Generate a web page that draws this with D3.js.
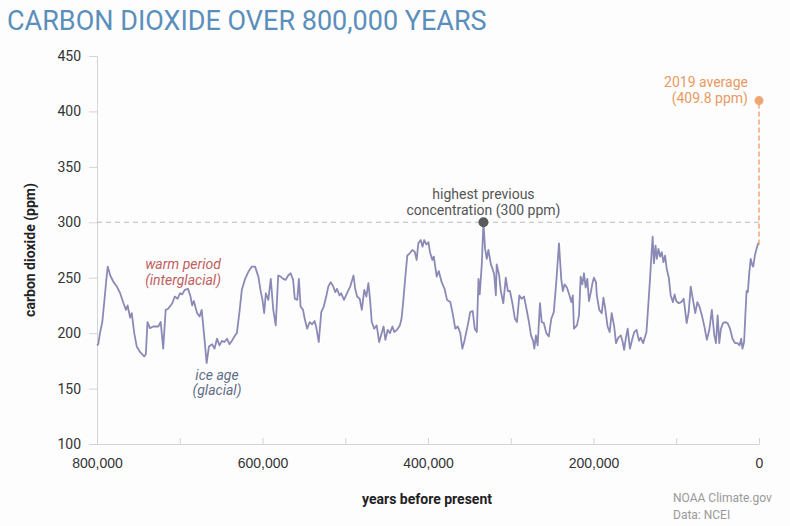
<!DOCTYPE html>
<html>
<head>
<meta charset="utf-8">
<script src="https://cdn.jsdelivr.net/npm/d3@7"></script>
<style>
  html, body { margin: 0; padding: 0; background: #fdfdfe; }
  svg { display: block; font-family: Roboto, "Open Sans", sans-serif; }
</style>
</head>
<body>
<div id="chart"></div>
<script>
// thousands of years before present
const kyrBeforePresent = [800,798.5,796.4,793.6,791,788.5,787,784,780,776,772,768,765,763,760,758,755,752,748,743,741,739,736,732,726,723,720,717,714,709,706,702.5,699.7,697,694,690,687,685,683,679,676,673.5,670,667.5,664.7,661,658,655,652,649,646,643,640,637,634,631,628,625,621,617,613,609,605,602,600,598,596,593,590,587,584,581,578,575,572,569,566,563,561,558,556,554,551,549,546,543,540,537,535,532,529,526,523,520.5,517.6,515,512,510,507,505,501.5,499,496,494,490,488,485.7,482.5,480,477,474.5,472,470,468,465,462,459,456,453.7,451.5,448.7,446,443,440.7,437.5,434,432,430,427,425,422,419,416,413.7,411.7,408.8,406.6,404.5,402,399.5,397.6,394.7,393,389.5,387,383.5,380,377,373,370.5,367,364,361,358.5,356,352,349,346,343.5,341,339,337.5,335,333,331,329,327,324,322,320,318,317,314,312,309,306,303.5,301,298,295,292.5,289.6,287,284,281,278,275.5,273,271.5,269.6,267.5,264.7,262.6,260,257,254,251,248,245,241.7,239,237,235,232,229,226.8,225,223.6,220,217.5,215.5,213.5,211.5,209.5,207.5,205.5,203.5,201,199.5,197,196,193,190,188,186,183,180.5,178,175,172.8,170,167,165,163,161,158.7,156,153,150.8,148,145,143,140,138,136,133.8,131.7,130,128.5,127,125,123.5,121.5,119.5,117.5,115.5,113.5,111.5,109,106.7,104,102,100,97,94,91,89,87.4,85,82.5,80,77,74.5,72,69,66,63,60,57,54,52,50,48,46,43.5,41,38,35,32,29,26,23.5,21.5,20,18,16.5,15,13.5,11.7,10,8,7,5,3,1,0];
const co2Ppm = [189,190,200,210,230,250,260,252,246,242,236,227,221,225,214,218,200,188,183,179,181,210,204.5,206,206,210,186,221,222,227,233,231,236,235,239,240,233,225,229,218,215,221,194,173,188,190,186,195,189,193,192,195,190,193,197,200,218,239,249,255.5,260,260,251,237,230,218,236,230,249,221,207,252,251,249,248,252,254,248,231,230,249,224,221,213,204,210,208,211,205,192,219,224,233,242,246,243,237,240,234,236,230,234,239,242,252,240,233,231,221,239,233,245,230,210,204,207,192,200,206,194,203,200,206,201,203,207,213,228,254,270,272,275,273.5,266,281,284,278,284,280,282,273,266,269,251,256,246,240,230,228,219,204,206,200,186,193,207,219,220,204,201,249,235,262,300,276,267,275,262,258,253,234,262,252,238,227,250,238,238,227,213,210,234,231,233,222,210,198,193,186,198,189,227,210,209,200,197,213,219,246,281,249,238,244,241,234,228,234,204,207,216,251,244,254,241,249,229,236,246,250,246,234,221,218,232,223,206,201,218,206,191,196,198,193,185,195,204,186,195,201,203,193,196,191,196,201,225,249,270,287,263,279,267,276,269,273,264,270,258,250,234,228,235,229,227,228,231,219,209,219,242,231,218,228,224,216,206,194,203,221,198,191,216,191,204,209,210,209,204,195,191,191,189,195,186,192,216,238,237,255,267,261,260,270,276,281,280];

const xTicks = [800000,700000,600000,500000,400000,300000,200000,100000,0];
const xTickLabels = [800000,600000,400000,200000,0];
const yTicks = [100,150,200,250,300,350,400,450];

const previousHigh = { years: 333000, ppm: 300 };
const recent = { years: 0, ppm: 409.8 };

const width = 790, height = 526;
const margin = { top: 56, right: 31, bottom: 82, left: 97 };

const data = kyrBeforePresent.map((k, i) => ({ years: k * 1000, ppm: co2Ppm[i] }));

const svg = d3.select("#chart").append("svg")
    .attr("width", width)
    .attr("height", height);

const x = d3.scaleLinear()
    .domain([800000, 0])
    .range([margin.left, width - margin.right]);

const y = d3.scaleLinear()
    .domain([100, 450])
    .range([height - margin.bottom, margin.top]);

// title
svg.append("text")
    .attr("x", 7)
    .attr("y", 30)
    .style("font-size", "27px")
    .style("fill", "#5b8fbb")
    .text("CARBON DIOXIDE OVER 800,000 YEARS");

// y axis
const yAxis = svg.append("g")
    .attr("transform", `translate(${margin.left},0)`)
    .call(d3.axisLeft(y).tickValues(yTicks).tickSize(8).tickPadding(8));
yAxis.select(".domain").attr("stroke", "#d4d4d8");
yAxis.selectAll(".tick line").attr("stroke", "#d4d4d8");
yAxis.selectAll("text")
    .style("font-size", "14px")
    .style("fill", "#333")
    .style("font-family", "Roboto, sans-serif");

// x axis, ticks pointing up, labels every 200,000
const xAxis = svg.append("g")
    .attr("transform", `translate(0,${y(100)})`)
    .call(d3.axisBottom(x)
        .tickValues(xTicks)
        .tickSizeInner(-6)
        .tickSizeOuter(0)
        .tickPadding(14)
        .tickFormat(d => xTickLabels.includes(d) ? d3.format(",")(d) : ""));
xAxis.select(".domain").attr("stroke", "#d4d4d8");
xAxis.selectAll(".tick line").attr("stroke", "#d4d4d8");
xAxis.selectAll("text")
    .style("font-size", "14px")
    .style("fill", "#333");

// axis titles
svg.append("text")
    .attr("transform", `translate(35,${(y(100) + y(450)) / 2}) rotate(-90)`)
    .attr("text-anchor", "middle")
    .style("font-size", "14px")
    .style("font-weight", "bold")
    .style("fill", "#222")
    .text("carbon dioxide (ppm)");

svg.append("text")
    .attr("x", 427)
    .attr("y", 504)
    .attr("text-anchor", "middle")
    .style("font-size", "14px")
    .style("font-weight", "bold")
    .style("fill", "#222")
    .text("years before present");

// source credit
svg.append("text")
    .attr("x", 673)
    .attr("y", 502)
    .style("font-size", "12px")
    .style("fill", "#999")
    .text("NOAA Climate.gov");
svg.append("text")
    .attr("x", 673)
    .attr("y", 519)
    .style("font-size", "12px")
    .style("fill", "#999")
    .text("Data: NCEI");

// reference line at the previous high
svg.append("line")
    .attr("x1", x(800000))
    .attr("x2", x(0))
    .attr("y1", y(previousHigh.ppm))
    .attr("y2", y(previousHigh.ppm))
    .attr("stroke", "#bbb")
    .attr("stroke-width", 1)
    .attr("stroke-dasharray", "5,4");

// the CO2 curve
const line = d3.line()
    .x(d => x(d.years))
    .y(d => y(d.ppm));

svg.append("path")
    .datum(data)
    .attr("fill", "none")
    .attr("stroke", "#8b8ab6")
    .attr("stroke-width", 1.8)
    .attr("stroke-linejoin", "round")
    .attr("d", line);

// 2019 marker
const last = data[data.length - 1];
svg.append("line")
    .attr("x1", x(recent.years))
    .attr("x2", x(recent.years))
    .attr("y1", y(last.ppm))
    .attr("y2", y(recent.ppm))
    .attr("stroke", "#eea774")
    .attr("stroke-width", 1.5)
    .attr("stroke-dasharray", "5,3");

svg.append("circle")
    .attr("cx", x(recent.years))
    .attr("cy", y(recent.ppm))
    .attr("r", 4.5)
    .attr("fill", "#eea774");

svg.append("text")
    .attr("x", x(recent.years) - 11)
    .attr("y", y(recent.ppm) - 14)
    .attr("text-anchor", "end")
    .style("font-size", "14px")
    .style("fill", "#e99a63")
    .selectAll("tspan")
    .data(["2019 average", "(409.8 ppm)"])
    .join("tspan")
    .attr("x", x(recent.years) - 11)
    .attr("dy", (d, i) => i ? 16 : 0)
    .text(d => d);

// previous high marker
svg.append("circle")
    .attr("cx", x(previousHigh.years))
    .attr("cy", y(previousHigh.ppm))
    .attr("r", 5)
    .attr("fill", "#5a5a5a");

svg.append("text")
    .attr("x", x(previousHigh.years))
    .attr("y", y(previousHigh.ppm) - 23)
    .attr("text-anchor", "middle")
    .style("font-size", "14px")
    .style("fill", "#555")
    .selectAll("tspan")
    .data(["highest previous", "concentration (300 ppm)"])
    .join("tspan")
    .attr("x", x(previousHigh.years))
    .attr("dy", (d, i) => i ? 16 : 0)
    .text(d => d);

// period labels
svg.append("text")
    .attr("x", 183)
    .attr("y", 269)
    .attr("text-anchor", "middle")
    .style("font-size", "14px")
    .style("font-style", "italic")
    .style("fill", "#c0605e")
    .selectAll("tspan")
    .data(["warm period", "(interglacial)"])
    .join("tspan")
    .attr("x", 183)
    .attr("dy", (d, i) => i ? 16 : 0)
    .text(d => d);

svg.append("text")
    .attr("x", 217)
    .attr("y", 380)
    .attr("text-anchor", "middle")
    .style("font-size", "14px")
    .style("font-style", "italic")
    .style("fill", "#5d6e86")
    .selectAll("tspan")
    .data(["ice age", "(glacial)"])
    .join("tspan")
    .attr("x", 217)
    .attr("dy", (d, i) => i ? 15 : 0)
    .text(d => d);
</script>
</body>
</html>
